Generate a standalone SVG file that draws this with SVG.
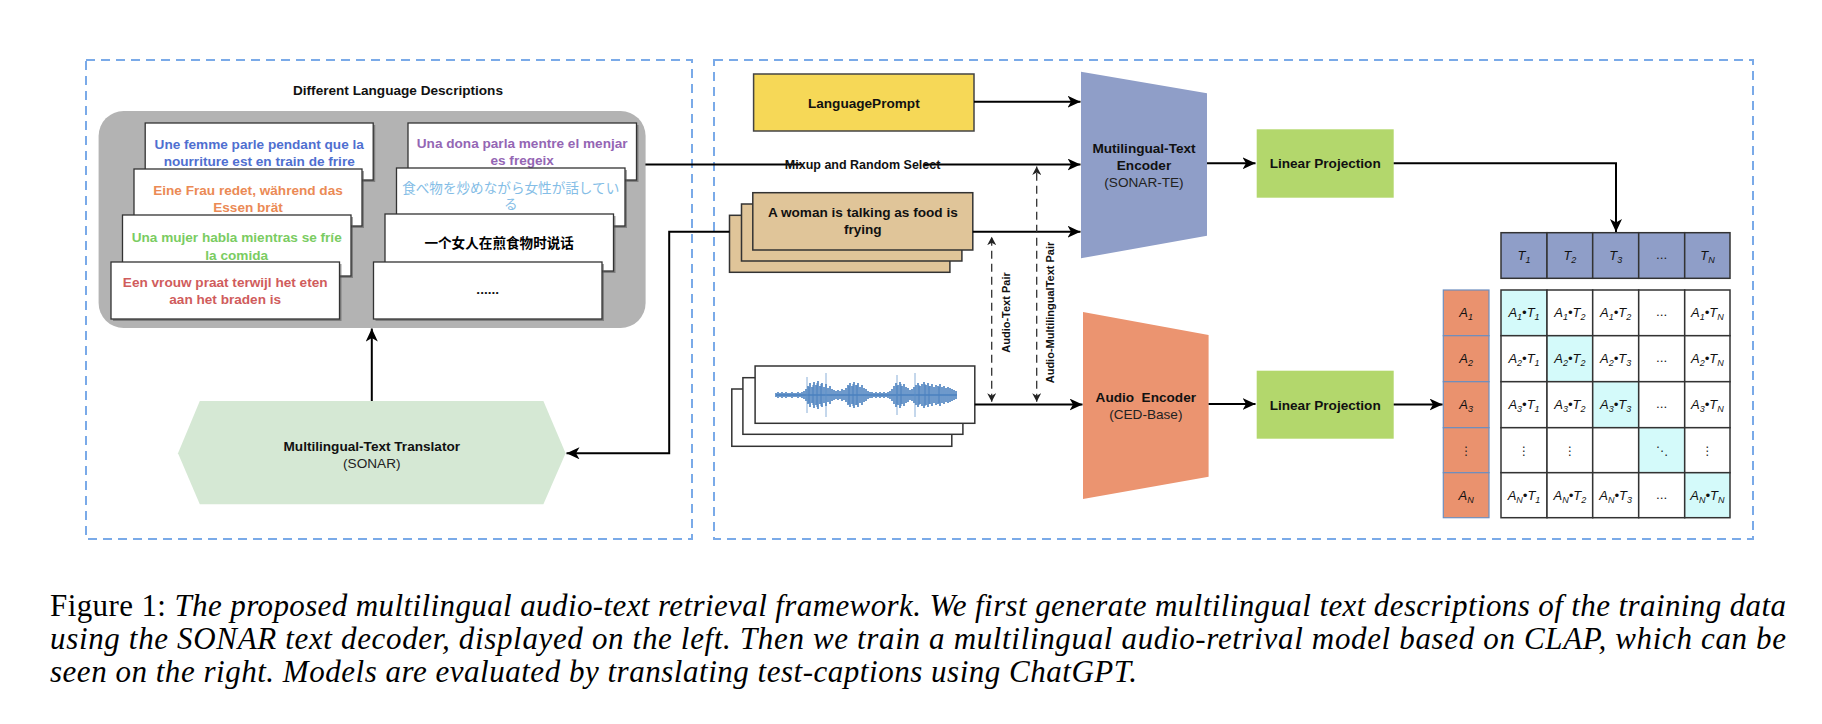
<svg xmlns="http://www.w3.org/2000/svg" width="1822" height="724" viewBox="0 0 1822 724">
<style>
.dbox{fill:none;stroke:#7aaae8;stroke-width:2;stroke-dasharray:9 6}
.card{fill:#fff;stroke:#333;stroke-width:1.3}
.shd{fill:#555;opacity:.55}
.b{font-family:"Liberation Sans",Arial,sans-serif;font-weight:bold;font-size:13.6px;text-anchor:middle;fill:#111}
.r{font-family:"Liberation Sans",Arial,sans-serif;font-size:13.6px;text-anchor:middle;fill:#222}
.cjk{font-family:"Noto Sans CJK JP","Noto Sans CJK SC",sans-serif;font-size:13.6px;text-anchor:middle}
.conn{fill:none;stroke:#000;stroke-width:2}
.dconn{fill:none;stroke:#333;stroke-width:1.3;stroke-dasharray:8 5}
.mi{font-family:"Liberation Sans",Arial,sans-serif;font-style:italic;font-size:13px;text-anchor:middle;fill:#111}
.sb{font-size:9px}
.dots{font-family:"DejaVu Sans",sans-serif;font-size:12px;text-anchor:middle;fill:#222}
.cell{fill:#fff;stroke:#333;stroke-width:1.5}
.cy{fill:#d4fafa;stroke:#333;stroke-width:1.5}
.th{fill:#8f9ec8;stroke:#333;stroke-width:1.5}
.ac{fill:#ea926e;stroke:#6c8ebf;stroke-width:1.2}
.cap{font-family:"Liberation Serif","Times New Roman",serif;font-size:31px;fill:#000}
.pair{font-family:"Liberation Sans",Arial,sans-serif;font-weight:bold;font-size:11px;text-anchor:middle;fill:#111}
</style>
<defs>
<marker id="arr" markerUnits="userSpaceOnUse" markerWidth="14" markerHeight="12" refX="13" refY="6" orient="auto"><path d="M0,0 L13,6 L0,12 L3.5,6 z" fill="#000"/></marker>
<marker id="arrs" markerUnits="userSpaceOnUse" markerWidth="9" markerHeight="9" refX="8.5" refY="4.5" orient="auto-start-reverse"><path d="M0,0 L8.5,4.5 L0,9 L2.5,4.5 z" fill="#222"/></marker>
</defs>
<rect width="1822" height="724" fill="#fff"/>

<g id="left-panel"><rect class="dbox" x="86" y="60" width="606" height="479"/></g>
<g id="right-panel"><rect class="dbox" x="714" y="60" width="1039" height="479"/></g>

<g id="descriptions">
<text class="b" x="398" y="95">Different Language Descriptions</text>
<rect x="98.6" y="111" width="547" height="217" rx="25" fill="#b3b3b3"/>
<g id="card-fr"><rect class="shd" x="147.2" y="125" width="228" height="57"/><rect class="card" x="145.2" y="123" width="228" height="57"/>
<text class="b" x="259.2" y="148.7" style="fill:#4f6fd0">Une femme parle pendant que la</text><text class="b" x="259.2" y="165.7" style="fill:#4f6fd0">nourriture est en train de frire</text></g>
<g id="card-de"><rect class="shd" x="136" y="171" width="228" height="57"/><rect class="card" x="134" y="169" width="228" height="57"/>
<text class="b" x="248" y="194.5" style="fill:#eb8a55">Eine Frau redet, während das</text><text class="b" x="248" y="211.5" style="fill:#eb8a55">Essen brät</text></g>
<g id="card-es"><rect class="shd" x="124.5" y="217" width="228.5" height="61"/><rect class="card" x="122.5" y="215" width="228.5" height="61"/>
<text class="b" x="236.7" y="242" style="fill:#7acc62">Una mujer habla mientras se fríe</text><text class="b" x="236.7" y="259.5" style="fill:#7acc62">la comida</text></g>
<g id="card-nl"><rect class="shd" x="113" y="264" width="228.5" height="57"/><rect class="card" x="111" y="262" width="228.5" height="57"/>
<text class="b" x="225.2" y="287" style="fill:#d05c5c">Een vrouw praat terwijl het eten</text><text class="b" x="225.2" y="304" style="fill:#d05c5c">aan het braden is</text></g>
<g id="card-ca"><rect class="shd" x="410" y="125" width="228.5" height="57"/><rect class="card" x="408" y="123" width="228.5" height="57"/>
<text class="b" x="522.2" y="148" style="fill:#9466b4">Una dona parla mentre el menjar</text><text class="b" x="522.2" y="165" style="fill:#9466b4">es fregeix</text></g>
<g id="card-ja"><rect class="shd" x="398.5" y="170" width="228.5" height="58"/><rect class="card" x="396.5" y="168" width="228.5" height="58"/>
<text class="cjk" x="510.7" y="192.7" fill="#84bde6">食べ物を炒めながら女性が話してい</text><text class="cjk" x="510.7" y="209.3" fill="#84bde6">る</text></g>
<g id="card-zh"><rect class="shd" x="387" y="216" width="228.5" height="57"/><rect class="card" x="385" y="214" width="228.5" height="57"/>
<text class="cjk" x="499.2" y="247.5" fill="#000" font-weight="bold" style="font-family:'Noto Sans CJK SC',sans-serif">一个女人在煎食物时说话</text></g>
<g id="card-more"><rect class="shd" x="375.5" y="264" width="228.5" height="57"/><rect class="card" x="373.5" y="262" width="228.5" height="57"/>
<text class="b" x="487.7" y="294">......</text></g>
</g>

<g id="translator">
<polygon points="178,453.3 199.8,401 543.4,401 565.6,453.3 543.4,504.3 199.8,504.3" fill="#d5e8d4"/>
<text class="b" x="371.8" y="450.5">Multilingual-Text Translator</text>
<text class="r" x="371.8" y="467.5">(SONAR)</text>
</g>

<g id="language-prompt">
<rect x="753.6" y="74" width="220.4" height="57" fill="#f6d857" stroke="#444" stroke-width="1.5"/>
<text class="b" x="863.8" y="107.5">LanguagePrompt</text>
</g>

<g id="text-stack">
<rect x="729.5" y="215.3" width="220.4" height="57" fill="#e0c599" stroke="#333" stroke-width="1.5"/>
<rect x="741.5" y="204" width="220.4" height="57" fill="#e0c599" stroke="#333" stroke-width="1.5"/>
<rect x="752.8" y="192.7" width="220" height="57.3" fill="#e0c599" stroke="#333" stroke-width="1.5"/>
<text class="b" x="862.8" y="217.3">A woman is talking as food is</text>
<text class="b" x="862.8" y="234.3">frying</text>
</g>

<g id="audio-stack">
<rect x="731.8" y="389" width="220" height="57.3" fill="#fff" stroke="#333" stroke-width="1.5"/>
<rect x="742.9" y="377.7" width="220" height="56.6" fill="#fff" stroke="#333" stroke-width="1.5"/>
<rect x="755.1" y="366" width="219.7" height="57.3" fill="#fff" stroke="#333" stroke-width="1.5"/>
<path d="M776 395H957" stroke="#4a80bf" stroke-width="1.5"/>
<path stroke="#4a80bf" stroke-width="1.6" fill="none" d="M776 393V397M778 392V398M780 393V397M782 392V398M784 393V397M786 392V398M788 393V397M790 393V397M792 392V398M794 393V397M796 393V397M798 392V398M800 393V397M802 392V398M804 391V399M806 389V401M808 386V404M810 383V407M812 387V403M814 382V408M816 385V405M818 381V409M820 386V404M822 383V407M824 387V403M826 384V406M828 388V402M830 386V404M832 389V401M834 390V400M836 391V399M838 390V400M840 391V399M842 389V401M844 390V400M846 388V402M848 385V405M850 383V407M852 386V404M854 382V408M856 385V405M858 383V407M860 387V403M862 385V405M864 388V402M866 389V401M868 391V399M870 392V398M872 392V398M874 393V397M876 392V398M878 393V397M880 392V398M882 393V397M884 392V398M886 393V397M888 392V398M890 391V399M892 389V401M894 386V404M896 383V407M898 385V405M900 382V408M902 386V404M904 384V406M906 387V403M908 388V402M910 390V400M912 389V401M914 387V403M916 385V405M918 383V407M920 386V404M922 384V406M924 382V408M926 385V405M928 383V407M930 386V404M932 384V406M934 387V403M936 385V405M938 386V404M940 384V406M942 387V403M944 386V404M946 388V402M948 387V403M950 388V402M952 389V401M954 390V400M956 391V399"/>
<path stroke="#4a80bf" stroke-width="1" fill="none" d="M809 387V403M813 385V405M817 383V407M821 384V406M849 386V404M853 384V406M857 385V405M897 386V404M901 384V406M919 385V405M925 384V406M929 386V404M939 387V403"/>
<path stroke="#5a8fc8" stroke-width="1" opacity="0.7" d="M807 377V413M826 373V417M897 375V415M915 373V417"/>
</g>

<g id="text-encoder">
<polygon points="1081,71.7 1207,93.3 1207,235.7 1081,258.3" fill="#8f9ec8"/>
<text class="b" x="1144" y="153">Mutilingual-Text</text>
<text class="b" x="1144" y="169.5">Encoder</text>
<text class="r" x="1144" y="187">(SONAR-TE)</text>
</g>

<g id="audio-encoder">
<polygon points="1083,312 1208.6,335 1208.6,476.7 1083,499" fill="#eb9470"/>
<text class="b" x="1145.8" y="402" xml:space="preserve">Audio  Encoder</text>
<text class="r" x="1145.8" y="419">(CED-Base)</text>
</g>

<g id="linear-projection-text">
<rect x="1256.7" y="129.3" width="137" height="68.4" fill="#b3d76c"/>
<text class="b" x="1325.2" y="168">Linear Projection</text>
</g>
<g id="linear-projection-audio">
<rect x="1256.7" y="370.7" width="137" height="68" fill="#b3d76c"/>
<text class="b" x="1325.2" y="409.5">Linear Projection</text>
</g>

<g id="text-embeddings">
<rect class="th" x="1501" y="232.7" width="46" height="45.6"/>
<rect class="th" x="1547" y="232.7" width="45.7" height="45.6"/>
<rect class="th" x="1592.7" y="232.7" width="46" height="45.6"/>
<rect class="th" x="1638.7" y="232.7" width="46" height="45.6"/>
<rect class="th" x="1684.7" y="232.7" width="45.3" height="45.6"/>
<text class="mi" x="1524" y="260"><tspan>T</tspan><tspan class="sb" dy="3">1</tspan></text>
<text class="mi" x="1569.9" y="260"><tspan>T</tspan><tspan class="sb" dy="3">2</tspan></text>
<text class="mi" x="1615.7" y="260"><tspan>T</tspan><tspan class="sb" dy="3">3</tspan></text>
<text class="r" x="1661.7" y="259">...</text>
<text class="mi" x="1707.4" y="260"><tspan>T</tspan><tspan class="sb" dy="3">N</tspan></text>
</g>

<g id="audio-embeddings">
<rect class="ac" x="1443.3" y="290" width="45.7" height="45.7"/>
<rect class="ac" x="1443.3" y="335.7" width="45.7" height="46"/>
<rect class="ac" x="1443.3" y="381.7" width="45.7" height="46"/>
<rect class="ac" x="1443.3" y="427.7" width="45.7" height="45"/>
<rect class="ac" x="1443.3" y="472.7" width="45.7" height="45"/>
<text class="mi" x="1466.2" y="317"><tspan>A</tspan><tspan class="sb" dy="3">1</tspan></text>
<text class="mi" x="1466.2" y="363"><tspan>A</tspan><tspan class="sb" dy="3">2</tspan></text>
<text class="mi" x="1466.2" y="409"><tspan>A</tspan><tspan class="sb" dy="3">3</tspan></text>
<text class="dots" x="1466.2" y="455">⋮</text>
<text class="mi" x="1466.2" y="499.5"><tspan>A</tspan><tspan class="sb" dy="3">N</tspan></text>
</g>

<g id="similarity-matrix">
<rect class="cy" x="1501" y="290" width="46" height="45.7"/>
<rect class="cell" x="1547" y="290" width="45.7" height="45.7"/>
<rect class="cell" x="1592.7" y="290" width="46" height="45.7"/>
<rect class="cell" x="1638.7" y="290" width="46" height="45.7"/>
<rect class="cell" x="1684.7" y="290" width="45.3" height="45.7"/>
<rect class="cell" x="1501" y="335.7" width="46" height="46"/>
<rect class="cy" x="1547" y="335.7" width="45.7" height="46"/>
<rect class="cell" x="1592.7" y="335.7" width="46" height="46"/>
<rect class="cell" x="1638.7" y="335.7" width="46" height="46"/>
<rect class="cell" x="1684.7" y="335.7" width="45.3" height="46"/>
<rect class="cell" x="1501" y="381.7" width="46" height="46"/>
<rect class="cell" x="1547" y="381.7" width="45.7" height="46"/>
<rect class="cy" x="1592.7" y="381.7" width="46" height="46"/>
<rect class="cell" x="1638.7" y="381.7" width="46" height="46"/>
<rect class="cell" x="1684.7" y="381.7" width="45.3" height="46"/>
<rect class="cell" x="1501" y="427.7" width="46" height="45"/>
<rect class="cell" x="1547" y="427.7" width="45.7" height="45"/>
<rect class="cell" x="1592.7" y="427.7" width="46" height="45"/>
<rect class="cy" x="1638.7" y="427.7" width="46" height="45"/>
<rect class="cell" x="1684.7" y="427.7" width="45.3" height="45"/>
<rect class="cell" x="1501" y="472.7" width="46" height="45"/>
<rect class="cell" x="1547" y="472.7" width="45.7" height="45"/>
<rect class="cell" x="1592.7" y="472.7" width="46" height="45"/>
<rect class="cell" x="1638.7" y="472.7" width="46" height="45"/>
<rect class="cy" x="1684.7" y="472.7" width="45.3" height="45"/>

<text class="mi" x="1524" y="317"><tspan>A</tspan><tspan class="sb" dy="3">1</tspan><tspan dy="-3">•T</tspan><tspan class="sb" dy="3">1</tspan></text>
<text class="mi" x="1569.9" y="317"><tspan>A</tspan><tspan class="sb" dy="3">1</tspan><tspan dy="-3">•T</tspan><tspan class="sb" dy="3">2</tspan></text>
<text class="mi" x="1615.7" y="317"><tspan>A</tspan><tspan class="sb" dy="3">1</tspan><tspan dy="-3">•T</tspan><tspan class="sb" dy="3">2</tspan></text>
<text class="r" x="1661.7" y="316">...</text>
<text class="mi" x="1707.4" y="317"><tspan>A</tspan><tspan class="sb" dy="3">1</tspan><tspan dy="-3">•T</tspan><tspan class="sb" dy="3">N</tspan></text>

<text class="mi" x="1524" y="363"><tspan>A</tspan><tspan class="sb" dy="3">2</tspan><tspan dy="-3">•T</tspan><tspan class="sb" dy="3">1</tspan></text>
<text class="mi" x="1569.9" y="363"><tspan>A</tspan><tspan class="sb" dy="3">2</tspan><tspan dy="-3">•T</tspan><tspan class="sb" dy="3">2</tspan></text>
<text class="mi" x="1615.7" y="363"><tspan>A</tspan><tspan class="sb" dy="3">2</tspan><tspan dy="-3">•T</tspan><tspan class="sb" dy="3">3</tspan></text>
<text class="r" x="1661.7" y="362">...</text>
<text class="mi" x="1707.4" y="363"><tspan>A</tspan><tspan class="sb" dy="3">2</tspan><tspan dy="-3">•T</tspan><tspan class="sb" dy="3">N</tspan></text>

<text class="mi" x="1524" y="409"><tspan>A</tspan><tspan class="sb" dy="3">3</tspan><tspan dy="-3">•T</tspan><tspan class="sb" dy="3">1</tspan></text>
<text class="mi" x="1569.9" y="409"><tspan>A</tspan><tspan class="sb" dy="3">3</tspan><tspan dy="-3">•T</tspan><tspan class="sb" dy="3">2</tspan></text>
<text class="mi" x="1615.7" y="409"><tspan>A</tspan><tspan class="sb" dy="3">3</tspan><tspan dy="-3">•T</tspan><tspan class="sb" dy="3">3</tspan></text>
<text class="r" x="1661.7" y="408">...</text>
<text class="mi" x="1707.4" y="409"><tspan>A</tspan><tspan class="sb" dy="3">3</tspan><tspan dy="-3">•T</tspan><tspan class="sb" dy="3">N</tspan></text>

<text class="dots" x="1524" y="455">⋮</text>
<text class="dots" x="1569.9" y="455">⋮</text>
<text class="dots" x="1661.7" y="455">⋱</text>
<text class="dots" x="1707.4" y="455">⋮</text>

<text class="mi" x="1524" y="499.5"><tspan>A</tspan><tspan class="sb" dy="3">N</tspan><tspan dy="-3">•T</tspan><tspan class="sb" dy="3">1</tspan></text>
<text class="mi" x="1569.9" y="499.5"><tspan>A</tspan><tspan class="sb" dy="3">N</tspan><tspan dy="-3">•T</tspan><tspan class="sb" dy="3">2</tspan></text>
<text class="mi" x="1615.7" y="499.5"><tspan>A</tspan><tspan class="sb" dy="3">N</tspan><tspan dy="-3">•T</tspan><tspan class="sb" dy="3">3</tspan></text>
<text class="r" x="1661.7" y="498.5">...</text>
<text class="mi" x="1707.4" y="499.5"><tspan>A</tspan><tspan class="sb" dy="3">N</tspan><tspan dy="-3">•T</tspan><tspan class="sb" dy="3">N</tspan></text>
</g>

<g id="connectors">
<path class="conn" d="M371.8,401 V328.5" marker-end="url(#arr)"/>
<path class="conn" d="M729.5,231.7 H669.2 V453.3 H566.5" marker-end="url(#arr)"/>
<path class="conn" d="M645.4,164.5 H1080.5" marker-end="url(#arr)"/>
<path class="conn" d="M974,101.7 H1080.5" marker-end="url(#arr)"/>
<path class="conn" d="M972.8,231.7 H1080.5" marker-end="url(#arr)"/>
<path class="conn" d="M974.8,404.5 H1082.5" marker-end="url(#arr)"/>
<path class="conn" d="M1207,163.3 H1255.5" marker-end="url(#arr)"/>
<path class="conn" d="M1208.6,404 H1255.5" marker-end="url(#arr)"/>
<path class="conn" d="M1393.7,163.3 H1616 V232" marker-end="url(#arr)"/>
<path class="conn" d="M1393.7,404.5 H1442.5" marker-end="url(#arr)"/>
<path class="dconn" d="M991.7,401.7 V236.7" marker-start="url(#arrs)" marker-end="url(#arrs)"/>
<path class="dconn" d="M1036.7,401.7 V166.5" marker-start="url(#arrs)" marker-end="url(#arrs)"/>
<rect x="801" y="156" width="123" height="17" fill="#fff"/>
<text class="b" x="862.6" y="168.8" style="font-size:12.5px">Mixup and Random Select</text>
<text class="pair" transform="translate(1010,312.5) rotate(-90)">Audio-Text Pair</text>
<text class="pair" transform="translate(1054.3,312.5) rotate(-90)">Audio-MultilingualText Pair</text>
</g>

<g id="caption">
<text class="cap" x="50" y="615.5" textLength="1736" lengthAdjust="spacing">Figure 1: <tspan font-style="italic">The proposed multilingual audio-text retrieval framework. We first generate multilingual text descriptions of the training data</tspan></text>
<text class="cap" x="50" y="648.5" textLength="1736" lengthAdjust="spacing" font-style="italic">using the SONAR text decoder, displayed on the left. Then we train a multilingual audio-retrival model based on CLAP, which can be</text>
<text class="cap" x="50" y="681.5" textLength="1087" lengthAdjust="spacing" font-style="italic">seen on the right. Models are evaluated by translating test-captions using ChatGPT.</text>
</g>
</svg>
